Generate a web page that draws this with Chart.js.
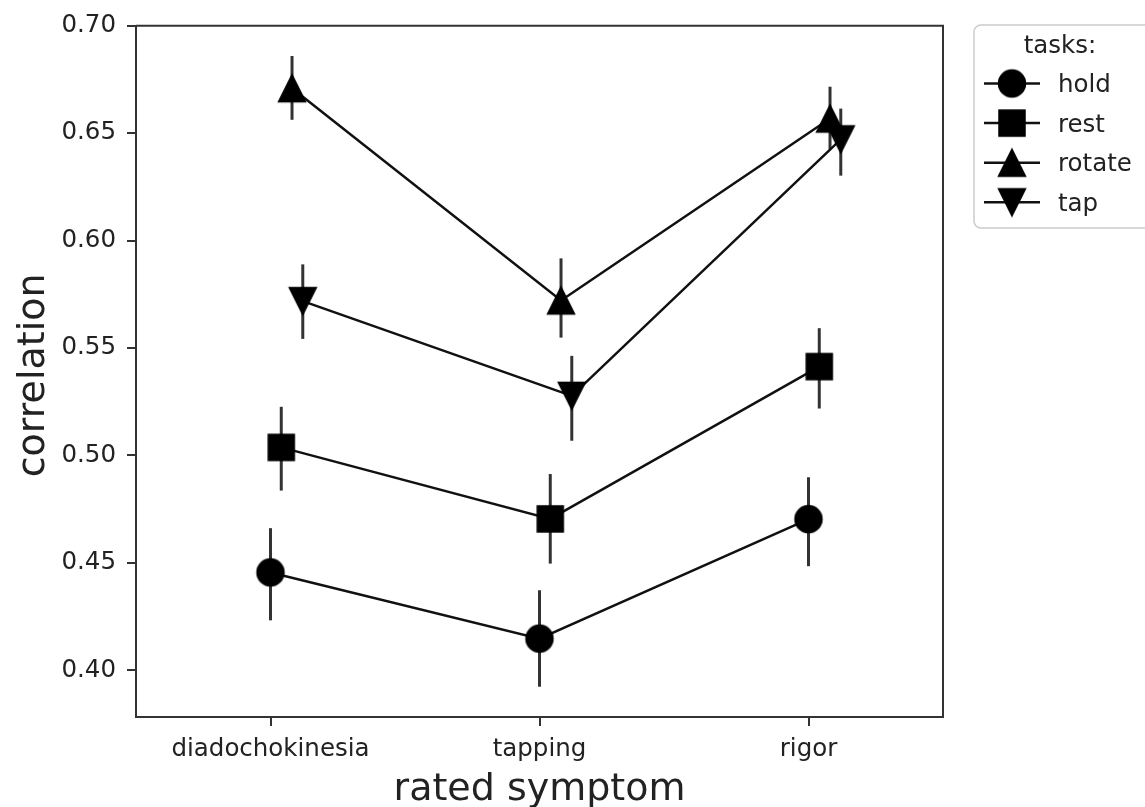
<!DOCTYPE html>
<html>
<head>
<meta charset="utf-8">
<script src="https://cdn.jsdelivr.net/npm/chart.js@4.4.1/dist/chart.umd.min.js"></script>
<style>
  html, body { margin: 0; padding: 0; background: #fff; }
  canvas { display: block; }
</style>
</head>
<body>
<canvas id="c" width="1145" height="807"></canvas>
<script>
// rated symptoms on the x axis, one group of points per task
const categories = ['diadochokinesia', 'tapping', 'rigor'];
const tasks = ['hold', 'rest', 'rotate', 'tap'];

// mean correlation per symptom, with lower / upper confidence limits
const holdMean   = [0.4455, 0.4147, 0.4703];
const holdLow    = [0.4232, 0.3923, 0.4484];
const holdHigh   = [0.4661, 0.4372, 0.4898];

const restMean   = [0.5037, 0.4704, 0.5413];
const restLow    = [0.4836, 0.4496, 0.5218];
const restHigh   = [0.5226, 0.4913, 0.5592];

const rotateMean = [0.6709, 0.5721, 0.6568];
const rotateLow  = [0.6562, 0.5548, 0.6425];
const rotateHigh = [0.6859, 0.5917, 0.6716];

const tapMean    = [0.5718, 0.5277, 0.6471];
const tapLow     = [0.5542, 0.5068, 0.6302];
const tapHigh    = [0.5889, 0.5463, 0.6614];

const yTicks = [0.40, 0.45, 0.50, 0.55, 0.60, 0.65, 0.70];

const means = [holdMean, restMean, rotateMean, tapMean];
const lows  = [holdLow, restLow, rotateLow, tapLow];
const highs = [holdHigh, restHigh, rotateHigh, tapHigh];

// horizontal dodge of each task within a symptom group (category units)
const DODGE = [0, 0.04, 0.08, 0.12];
const SHAPES = ['circle', 'square', 'up', 'down'];

const FONT = "'DejaVu Sans', sans-serif";
const INK = '#111111';
const AXIS = '#333333';
const TEXT = '#222222';

function makeMarker(shape) {
  const size = 27, half = size / 2;
  const c = document.createElement('canvas');
  c.width = 34; c.height = 34;
  const g = c.getContext('2d');
  const m = 17;
  g.fillStyle = '#000'; g.strokeStyle = '#000'; g.lineWidth = 1.5; g.lineJoin = 'miter';
  g.beginPath();
  if (shape === 'circle') {
    g.arc(m, m, half, 0, Math.PI * 2);
  } else if (shape === 'square') {
    g.rect(m - half + 0.5, m - half + 0.5, size - 1, size - 1);
  } else if (shape === 'up') {
    g.moveTo(m, m - half); g.lineTo(m + half, m + half); g.lineTo(m - half, m + half); g.closePath();
  } else {
    g.moveTo(m, m + half); g.lineTo(m + half, m - half); g.lineTo(m - half, m - half); g.closePath();
  }
  g.fill(); g.stroke();
  return c;
}
const markers = SHAPES.map(makeMarker);

const datasets = tasks.map((name, k) => ({
  label: name,
  data: categories.map((_, i) => ({ x: i + DODGE[k], y: means[k][i] })),
  showLine: true,
  borderColor: INK,
  borderWidth: 2.5,
  tension: 0,
  pointStyle: markers[k],
  pointRadius: 14,
  pointHoverRadius: 14,
  backgroundColor: INK,
  clip: false
}));

// vertical confidence-interval bars behind the markers
const errorBars = {
  id: 'errorBars',
  beforeDatasetsDraw(chart) {
    const { ctx, scales: { x, y } } = chart;
    ctx.save();
    ctx.strokeStyle = '#333333';
    ctx.lineWidth = 3;
    ctx.lineCap = 'butt';
    tasks.forEach((_, k) => {
      categories.forEach((_, i) => {
        const px = x.getPixelForValue(i + DODGE[k]);
        ctx.beginPath();
        ctx.moveTo(px, y.getPixelForValue(lows[k][i]));
        ctx.lineTo(px, y.getPixelForValue(highs[k][i]));
        ctx.stroke();
      });
    });
    ctx.restore();
  }
};

// closed frame, axis titles and the legend box on the right
const decorations = {
  id: 'decorations',
  afterDraw(chart) {
    const { ctx, chartArea: a } = chart;
    ctx.save();
    ctx.strokeStyle = AXIS;
    ctx.lineWidth = 2;
    ctx.beginPath();
    ctx.moveTo(a.left, a.top); ctx.lineTo(a.right, a.top); ctx.lineTo(a.right, a.bottom);
    ctx.stroke();

    ctx.fillStyle = TEXT;
    ctx.font = '38px ' + FONT;
    ctx.textAlign = 'center';
    ctx.textBaseline = 'alphabetic';
    ctx.fillText('rated symptom', (a.left + a.right) / 2, 800);
    ctx.save();
    ctx.translate(44, (a.top + a.bottom) / 2 + 4);
    ctx.rotate(-Math.PI / 2);
    ctx.fillText('correlation', 0, 0);
    ctx.restore();

    // legend
    const lx = 974, ly = 25, lw = 200, lh = 203, r = 7;
    ctx.beginPath();
    ctx.moveTo(lx + r, ly);
    ctx.lineTo(lx + lw, ly);
    ctx.lineTo(lx + lw, ly + lh);
    ctx.lineTo(lx + r, ly + lh);
    ctx.arcTo(lx, ly + lh, lx, ly + lh - r, r);
    ctx.lineTo(lx, ly + r);
    ctx.arcTo(lx, ly, lx + r, ly, r);
    ctx.closePath();
    ctx.fillStyle = 'rgba(255,255,255,0.85)';
    ctx.fill();
    ctx.strokeStyle = '#cccccc';
    ctx.lineWidth = 1.5;
    ctx.stroke();

    ctx.fillStyle = TEXT;
    ctx.font = '24.5px ' + FONT;
    ctx.textAlign = 'center';
    ctx.fillText('tasks:', 1060, 53);
    ctx.textAlign = 'left';
    tasks.forEach((name, k) => {
      const cy = 83.5 + k * 39.6;
      ctx.strokeStyle = INK;
      ctx.lineWidth = 2.5;
      ctx.beginPath();
      ctx.moveTo(984, cy); ctx.lineTo(1040, cy);
      ctx.stroke();
      ctx.drawImage(markers[k], 1012 - markers[k].width / 2, cy - markers[k].height / 2);
      ctx.fillStyle = TEXT;
      ctx.fillText(name, 1058, cy + 8.5);
    });
    ctx.restore();
  }
};

new Chart(document.getElementById('c'), {
  type: 'line',
  data: { datasets },
  plugins: [errorBars, decorations],
  options: {
    responsive: false,
    devicePixelRatio: 1,
    animation: false,
    events: [],
    layout: { padding: { left: 0, top: 24, right: 202, bottom: 0 } },
    plugins: { legend: { display: false }, tooltip: { enabled: false } },
    scales: {
      x: {
        type: 'linear',
        min: -0.5,
        max: 2.5,
        afterBuildTicks: (axis) => { axis.ticks = categories.map((_, i) => ({ value: i })); },
        afterFit: (axis) => { axis.height = 90; },
        ticks: {
          callback: (v) => categories[Math.round(v)],
          font: { family: FONT, size: 24.5 },
          color: TEXT,
          padding: 9,
          maxRotation: 0,
          autoSkip: false
        },
        grid: { drawOnChartArea: false, drawTicks: true, tickLength: 9, color: AXIS, lineWidth: 2 },
        border: { display: true, color: AXIS, width: 2 }
      },
      y: {
        type: 'linear',
        min: 0.3782,
        max: 0.70,
        afterBuildTicks: (axis) => { axis.ticks = yTicks.map(v => ({ value: v })); },
        afterFit: (axis) => { axis.width = 136; },
        ticks: {
          callback: (v) => Number(v).toFixed(2),
          font: { family: FONT, size: 24.5 },
          color: TEXT,
          padding: 11,
          autoSkip: false
        },
        grid: { drawOnChartArea: false, drawTicks: true, tickLength: 9, color: AXIS, lineWidth: 2 },
        border: { display: true, color: AXIS, width: 2 }
      }
    }
  }
});
</script>
</body>
</html>
